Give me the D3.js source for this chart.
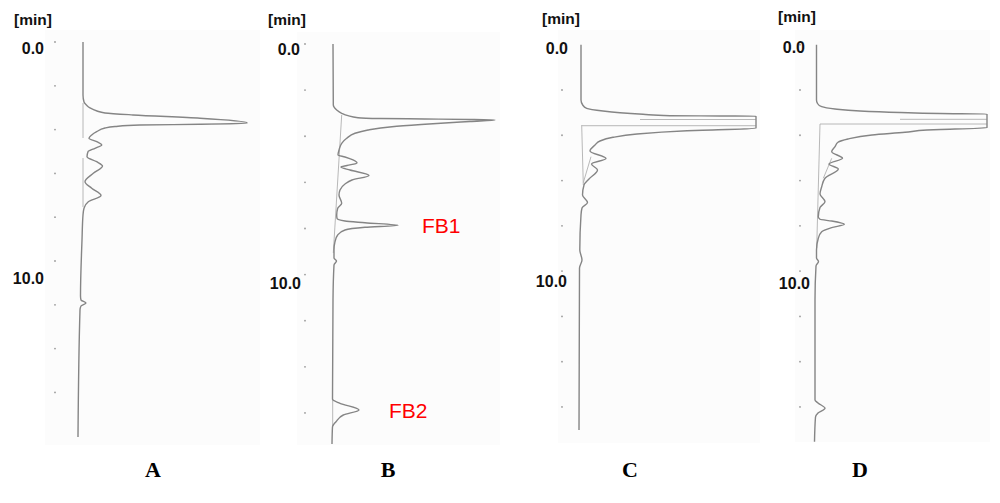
<!DOCTYPE html>
<html><head><meta charset="utf-8">
<script src="https://cdn.jsdelivr.net/npm/d3@7"></script>
<style>body{margin:0;background:#fff}</style>
</head><body><svg id="c" width="1000" height="503"></svg>
<script>
// ---------- DATA (time in min, detector signal in arbitrary units) ----------
const panelNames = ["A", "B", "C", "D"];
const timeTicks = [0, 2, 4, 6, 8, 10, 12, 14, 16];
const tickLabelTimes = [0, 10];
const tickLabels = ["0.0", "10.0"];
const axisUnit = "[min]";

const timeA = [0, 2.42, 2.74, 2.88, 3.01, 3.15, 3.24, 3.33, 3.48, 3.685, 3.712, 3.758, 3.79, 3.858, 3.927, 4.096, 4.247, 4.397, 4.553, 4.703, 4.854, 5.009, 5.237, 5.466, 5.662, 5.995, 6.379, 6.68, 7.009, 7.292, 7.589, 7.9, 9.041, 11.598, 11.781, 11.918, 12.055, 12.237, 18.037];
const signalA = [0, 0, 1, 3.5, 7, 14, 22, 50, 117, 164, 164, 117, 57, 32, 22, 13.7, 8.7, 6, 13.7, 18.7, 12, 5, 4, 13.7, 19.5, 10.3, 2, 8.7, 18, 5.3, 1, 0, -1, -2.5, -2, 3, -2, -3, -5];

const timeB = [0, 2.645, 2.862, 3.005, 3.109, 3.196, 3.231, 3.252, 3.274, 3.296, 3.361, 3.482, 3.586, 3.729, 3.872, 4.089, 4.306, 4.597, 4.813, 4.9, 5.03, 5.16, 5.269, 5.334, 5.464, 5.703, 5.898, 6.071, 6.331, 6.548, 6.908, 7.125, 7.416, 7.559, 7.676, 7.75, 7.862, 7.949, 8.066, 8.283, 8.573, 8.933, 9.28, 9.41, 9.584, 11.101, 15.408, 15.581, 15.872, 16.088, 16.379, 16.596, 17.346];
const signalB = [0, 0.3, 3.7, 8.7, 15, 25, 47, 92, 137, 162, 137, 92, 59, 35, 22, 13.7, 8.7, 6, 5, 12, 20, 24, 14, 8, 17, 36, 19, 12, 7, 6, 8.7, 4.7, 3.7, 4, 12, 32, 65, 32, 12, 4.7, 2, 1, 1, 3.5, 1, 0, -0.5, 7, 26, 10.3, 3, -0.5, -1];

const timeC = [0, 2.443, 2.663, 2.809, 2.928, 3.004, 3.074, 3.136, 3.149, 3.158, 3.693, 3.799, 3.944, 4.09, 4.254, 4.43, 4.695, 5.027, 5.27, 5.535, 5.932, 6.197, 6.639, 6.97, 7.213, 7.522, 9.068, 9.51, 9.863, 17.019];
const signalC = [0, 0, 1.7, 5.7, 22, 39, 62, 89, 139, 175, 175, 106, 56, 32, 19, 14, 9, 25, 10.5, 16.5, 8, 3, 1.5, 6.5, 1, 0, -1.2, 1, -1.5, -2];

const timeD = [0, 2.443, 2.597, 2.739, 2.84, 2.928, 2.995, 3.039, 3.061, 3.666, 3.768, 3.869, 3.988, 4.165, 4.311, 4.505, 4.726, 5.018, 5.27, 5.49, 5.901, 6.272, 6.595, 6.935, 7.191, 7.597, 7.712, 7.787, 7.933, 8.083, 8.26, 8.551, 9.068, 9.421, 9.576, 9.775, 11.277, 15.694, 15.826, 16.06, 16.268, 16.444, 17.535];
const signalD = [0.5, 0.5, 1.5, 5.7, 19, 44, 84, 124, 171, 171, 111, 89, 56, 32, 22, 19, 15.7, 26.5, 13, 22.3, 9, 5.7, 4, 9, 4, 2.3, 4, 15.7, 28.3, 15.7, 5.7, 2.3, 0.5, 0.5, 2.5, 0, -1, -1, 2, 9, 2, -0.5, -1.5];

// integration / baseline marks drawn by the software: [t1, s1, t2, s2]
const marksA = [[2.785, 0, 4.384, 0], [5.297, 0, 7.534, 0]];
const marksB = [[3.079, 8.7, 9.063, 0.3], [15.42, -0.3, 16.58, -0.3]];
const marksC = [[3.578, 1, 3.578, 175], [3.304, 59, 3.304, 175], [3.547, 0.7, 6.197, 2.3], [4.947, 10, 6.095, 2.3]];
const marksD = [[3.503, 4, 3.503, 171], [3.295, 84, 3.295, 171], [3.503, 4, 8.98, 0.7], [5.018, 15.7, 5.901, 7.3]];

const peakLabels = ["FB1", "FB2"];
const peakLabelTimes = [7.862, 15.872];

// ---------- LAYOUT ----------
const layout = {
  A: {x0: 83,  y0: 42,   ppm: 21.9,  tickX: 55,  bg: [45, 30, 215, 415],  minX: 14,  minY: 25, zeroX: 44,  zeroY: 54,   tenX: 44,  tenY: 284, letterX: 153},
  B: {x0: 333, y0: 44,   ppm: 23.06, tickX: 305, bg: [297, 32, 203, 413], minX: 268, minY: 25, zeroX: 300, zeroY: 54.5, tenX: 301, tenY: 289, letterX: 388},
  C: {x0: 581, y0: 44.7, ppm: 22.64, tickX: 562, bg: [558, 30, 202, 413], minX: 542, minY: 24, zeroX: 568, zeroY: 53.5, tenX: 567, tenY: 287, letterX: 630},
  D: {x0: 816, y0: 44.7, ppm: 22.64, tickX: 800, bg: [795, 30, 195, 412], minX: 778, minY: 22, zeroX: 805, zeroY: 52.5, tenX: 810, tenY: 289, letterX: 860}
};
const traces = {A: [timeA, signalA, marksA], B: [timeB, signalB, marksB], C: [timeC, signalC, marksC], D: [timeD, signalD, marksD]};

const svg = d3.select("#c");
const sans = "'Liberation Sans', Arial, Helvetica, sans-serif";
const serif = "'Liberation Serif', 'Times New Roman', serif";

panelNames.forEach(name => {
  const L = layout[name];
  const [tArr, sArr, marks] = traces[name];
  const y = d3.scaleLinear().domain([0, 16]).range([L.y0, L.y0 + 16 * L.ppm]);
  const x = d3.scaleLinear().domain([0, 200]).range([L.x0, L.x0 + 200]);
  const g = svg.append("g");

  g.append("rect").attr("x", L.bg[0]).attr("y", L.bg[1]).attr("width", L.bg[2]).attr("height", L.bg[3])
    .attr("fill", "#fcfcfc");

  // tick dots
  g.selectAll("circle.tick").data(timeTicks).enter().append("circle")
    .attr("cx", L.tickX).attr("cy", d => y(d)).attr("r", 0.9).attr("fill", "#9a9a9a");

  // unit label and tick labels
  g.append("text").attr("x", L.minX).attr("y", L.minY).text(axisUnit)
    .attr("font-family", sans).attr("font-weight", "bold").attr("font-size", 15.5).attr("fill", "#111");
  g.append("text").attr("x", L.zeroX).attr("y", L.zeroY).attr("text-anchor", "end").text(tickLabels[0])
    .attr("font-family", sans).attr("font-weight", "bold").attr("font-size", 16).attr("fill", "#111");
  g.append("text").attr("x", L.tenX).attr("y", L.tenY).attr("text-anchor", "end").text(tickLabels[1])
    .attr("font-family", sans).attr("font-weight", "bold").attr("font-size", 16).attr("fill", "#111");

  // baseline/integration marks
  g.selectAll("line.mark").data(marks).enter().append("line")
    .attr("x1", d => x(d[1])).attr("y1", d => y(d[0]))
    .attr("x2", d => x(d[3])).attr("y2", d => y(d[2]))
    .attr("stroke", "#b0b0b0").attr("stroke-width", 0.9);

  // chromatogram trace
  const pts = tArr.map((t, i) => [sArr[i], t]);
  const line = d3.line().x(d => x(d[0])).y(d => y(d[1])).curve(d3.curveMonotoneY);
  g.append("path").attr("d", line(pts)).attr("fill", "none")
    .attr("stroke", "#858585").attr("stroke-width", 1.4).attr("stroke-linejoin", "round");

  // panel letter
  g.append("text").attr("x", L.letterX).attr("y", 477).attr("text-anchor", "middle").text(name)
    .attr("font-family", serif).attr("font-weight", "bold").attr("font-size", 22).attr("fill", "#000");

  if (name === "B") {
    const lblX = [422, 389];
    peakLabels.forEach((lab, i) => {
      g.append("text").attr("x", lblX[i]).attr("y", y(peakLabelTimes[i]) + 7.5).text(lab)
        .attr("font-family", sans).attr("font-size", 21).attr("fill", "#ff0000");
    });
  }
});
</script></body></html>
